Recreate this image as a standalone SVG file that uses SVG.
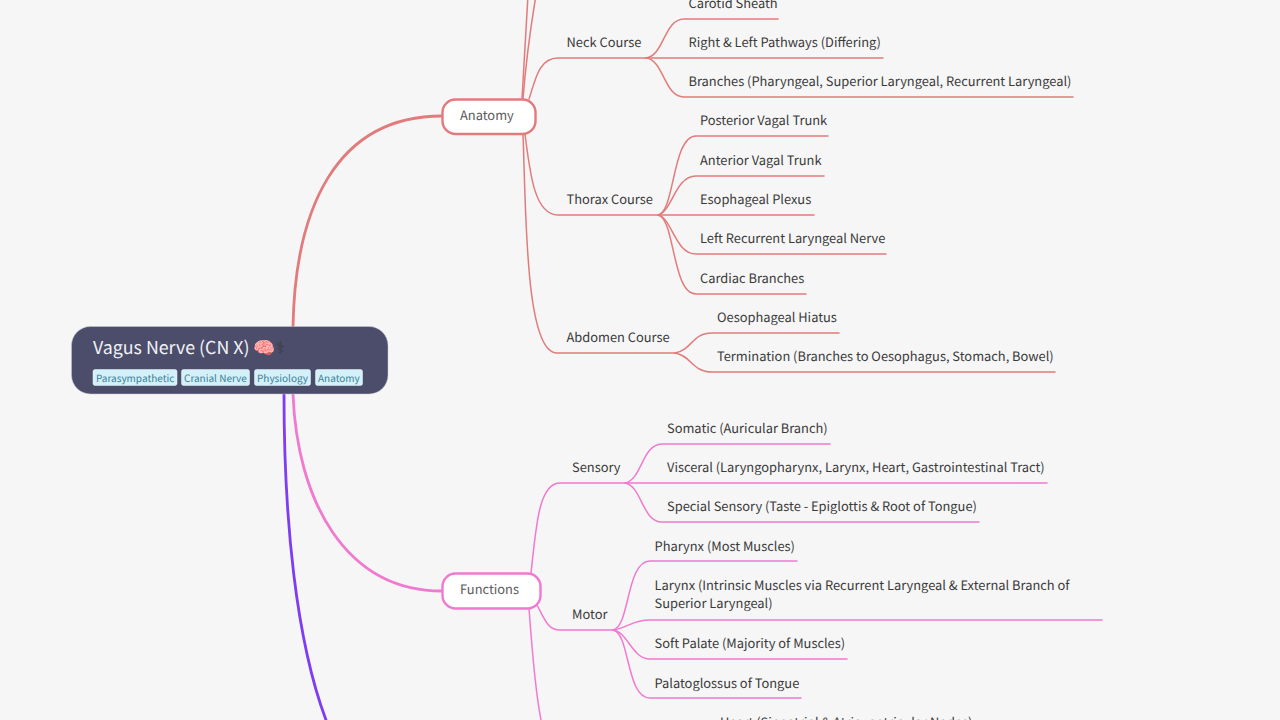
<svg xmlns="http://www.w3.org/2000/svg" width="1280" height="720" viewBox="0 0 1280 720">
<style>
text{font-family:"Noto Sans CJK SC","Noto Sans",sans-serif;font-size:12.87px;fill:#3a3a3a;text-rendering:geometricPrecision}
.c{fill:none;stroke-width:1.5;stroke-linecap:round}
.m{fill:none;stroke-width:2.8;stroke-linecap:round}
.r{stroke:#e27b7b}.p{stroke:#f07ad0}
.n{fill:#ffffff;stroke-width:2.4}
.t{fill:#5a5a5a}
.tag{fill:#d4f1f9;stroke:#e8f8fc;stroke-width:.5}
.tt{font-size:10px;fill:#3a7f98}
</style>
<rect width="1280" height="720" fill="#f6f6f6"/>
<g id="connectors">
<path class="m r" d="M293 327C295 210 335 116 442 116"/>
<path class="m p" d="M293 394C297 500 345 591 442 591"/>
<path class="m" stroke="#7e3cf5" d="M284 394C284 520 296 640 326 720"/>
<path class="c r" d="M522 99L528 -5"/>
<path class="c r" d="M523 99C526 60 531 25 536 -5"/>
<path class="c r" d="M529 99C535 82 538 58 558 58H646"/>
<path class="c r" d="M525 134C530 175 535 215 558 215H657"/>
<path class="c r" d="M523 134C526 210 525 353 557 353H675"/>
<path class="c r" d="M646 58C664 56 664 19 684 19H778"/>
<path class="c r" d="M646 58H883"/>
<path class="c r" d="M646 58C664 60 664 97 684 97H1073"/>
<path class="c r" d="M658 215C675 212 672 136 696 136H828"/>
<path class="c r" d="M658 215C672 212 675 176 696 176H824"/>
<path class="c r" d="M658 215H814"/>
<path class="c r" d="M658 215C672 218 675 254 696 254H886"/>
<path class="c r" d="M658 215C675 218 672 294 696 294H806"/>
<path class="c r" d="M675 353C692 350 692 333 712 333H839"/>
<path class="c r" d="M675 353C692 356 692 372 712 372H1055"/>
<path class="c p" d="M531 573C536 530 538 483 560 483H625"/>
<path class="c p" d="M537 605C545 620 548 630 560 630H613"/>
<path class="c p" d="M529 608C532 650 535 690 541 720"/>
<path class="c p" d="M625 483C642 480 642 444 662 444H830"/>
<path class="c p" d="M625 483H1047"/>
<path class="c p" d="M625 483C642 486 642 522 662 522H979"/>
<path class="c p" d="M613 630C630 627 626 561 650 561H797"/>
<path class="c p" d="M613 630C628 628 632 620 650 620H1102"/>
<path class="c p" d="M613 630C628 632 632 659 650 659H847"/>
<path class="c p" d="M613 630C630 633 626 698 650 698H801"/>
</g>
<g id="root">
<rect x="71.500" y="326.500" width="316.500" height="67.500" rx="19" fill="#4b4d6b" stroke="#c9c9d4" stroke-width=".5"/>
<text x="93" y="354" style="font-size:17.8px;fill:#f2f2f6">Vagus Nerve (CN X) 🧠<tspan style="fill:#3e3e3e">⚕</tspan></text>
<rect class="tag" x="93" y="369.500" width="84" height="16" rx="2"/><text class="tt" x="96" y="382">Parasympathetic</text>
<rect class="tag" x="181.500" y="369.500" width="68" height="16" rx="2"/><text class="tt" x="184" y="382">Cranial Nerve</text>
<rect class="tag" x="254.500" y="369.500" width="56" height="16" rx="2"/><text class="tt" x="257" y="382">Physiology</text>
<rect class="tag" x="315.500" y="369.500" width="47" height="16" rx="2"/><text class="tt" x="318" y="382">Anatomy</text>
</g>
<g id="anatomy"><rect class="n" x="442.500" y="99.500" width="93" height="34.500" rx="13" stroke="#e27b7b"/><text class="t" x="460" y="120">Anatomy</text></g>
<g id="functions"><rect class="n" x="442.500" y="573.500" width="98" height="35" rx="13" stroke="#f07ad0"/><text class="t" x="460" y="594">Functions</text></g>
<g id="neck"><text x="566.500" y="47">Neck Course</text></g>
<g id="thorax"><text x="566.500" y="204">Thorax Course</text></g>
<g id="abdomen"><text x="566.500" y="342">Abdomen Course</text></g>
<g id="carotid"><text x="688.500" y="8">Carotid Sheath</text></g>
<g id="pathways"><text x="688.500" y="47">Right &amp; Left Pathways (Differing)</text></g>
<g id="branches"><text x="688.500" y="86">Branches (Pharyngeal, Superior Laryngeal, Recurrent Laryngeal)</text></g>
<g id="posterior"><text x="700" y="125">Posterior Vagal Trunk</text></g>
<g id="anterior"><text x="700" y="164.500">Anterior Vagal Trunk</text></g>
<g id="plexus"><text x="700" y="204">Esophageal Plexus</text></g>
<g id="recurrent"><text x="700" y="243">Left Recurrent Laryngeal Nerve</text></g>
<g id="cardiac"><text x="700" y="282.500">Cardiac Branches</text></g>
<g id="hiatus"><text x="717" y="322">Oesophageal Hiatus</text></g>
<g id="termination"><text x="717" y="361">Termination (Branches to Oesophagus, Stomach, Bowel)</text></g>
<g id="sensory"><text x="572" y="472">Sensory</text></g>
<g id="somatic"><text x="667" y="432.500">Somatic (Auricular Branch)</text></g>
<g id="visceral"><text x="667" y="472">Visceral (Laryngopharynx, Larynx, Heart, Gastrointestinal Tract)</text></g>
<g id="special"><text x="667" y="511">Special Sensory (Taste - Epiglottis &amp; Root of Tongue)</text></g>
<g id="motor"><text x="572" y="619">Motor</text></g>
<g id="pharynx"><text x="654.500" y="550.500">Pharynx (Most Muscles)</text></g>
<g id="larynx"><text x="654.500" y="590">Larynx (Intrinsic Muscles via Recurrent Laryngeal &amp; External Branch of</text><text x="654.500" y="608">Superior Laryngeal)</text></g>
<g id="palate"><text x="654.500" y="648">Soft Palate (Majority of Muscles)</text></g>
<g id="palatoglossus"><text x="654.500" y="687.500">Palatoglossus of Tongue</text></g>
<g id="heart"><text x="720" y="727">Heart (Sinoatrial &amp; Atrioventricular Nodes)</text></g>
</svg>
